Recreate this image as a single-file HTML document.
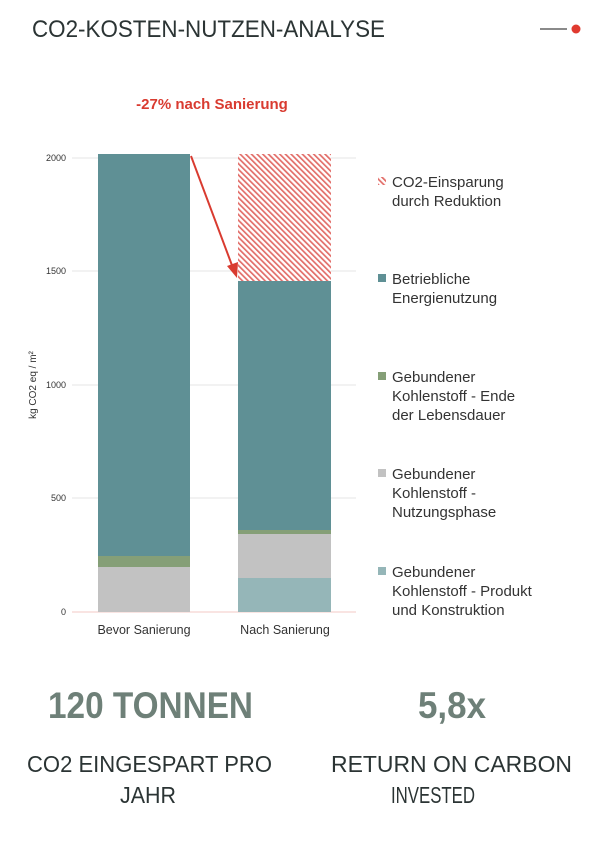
<!DOCTYPE html>
<html><head><meta charset="utf-8"><style>
html,body{margin:0;padding:0;background:#fff;}
svg{display:block;font-family:"Liberation Sans",sans-serif;}
</style></head><body>
<svg width="605" height="841" viewBox="0 0 605 841">
<defs>
<pattern id="h" width="4" height="4" patternUnits="userSpaceOnUse" patternTransform="rotate(-45)">
<rect width="4" height="4" fill="#fff"/><rect width="1.7" height="4" fill="#e26d68"/>
</pattern>
</defs>
<text x="32" y="37" font-size="24" fill="#2b3434" textLength="353" lengthAdjust="spacingAndGlyphs">CO2-KOSTEN-NUTZEN-ANALYSE</text>
<line x1="540" y1="29" x2="567" y2="29" stroke="#444" stroke-width="1.2"/>
<circle cx="576" cy="29" r="4.5" fill="#e03a2f"/>
<text x="212" y="109" font-size="15" font-weight="bold" fill="#d93b30" text-anchor="middle">-27% nach Sanierung</text>
<g stroke="#e4e4e4" stroke-width="1">
<line x1="72" y1="158" x2="356" y2="158"/><line x1="72" y1="271" x2="356" y2="271"/>
<line x1="72" y1="385" x2="356" y2="385"/><line x1="72" y1="498" x2="356" y2="498"/>
</g>
<line x1="72" y1="612" x2="356" y2="612" stroke="#f3c9c4" stroke-width="1"/>
<g font-size="9" fill="#333" text-anchor="end">
<text x="66" y="161">2000</text><text x="66" y="274">1500</text><text x="66" y="388">1000</text><text x="66" y="501">500</text><text x="66" y="615">0</text>
</g>
<text transform="translate(36,385) rotate(-90)" font-size="10" fill="#333" text-anchor="middle">kg CO2 eq / m²</text>
<rect x="98" y="154" width="92" height="402" fill="#5f9095"/>
<rect x="98" y="556" width="92" height="11" fill="#859f77"/>
<rect x="98" y="567" width="92" height="45" fill="#c2c2c2"/>
<rect x="238" y="154" width="93" height="127" fill="url(#h)"/>
<rect x="238" y="281" width="93" height="249" fill="#5f9095"/>
<rect x="238" y="530" width="93" height="4" fill="#859f77"/>
<rect x="238" y="534" width="93" height="44" fill="#c2c2c2"/>
<rect x="238" y="578" width="93" height="34" fill="#95b6b8"/>
<line x1="191" y1="156" x2="233" y2="268" stroke="#d93b30" stroke-width="2"/>
<polygon points="237,278 227,266 238,262" fill="#d93b30"/>
<g font-size="12.5" fill="#333" text-anchor="middle">
<text x="144" y="634">Bevor Sanierung</text><text x="285" y="634">Nach Sanierung</text>
</g>
<rect x="378" y="177" width="8" height="8" fill="url(#h)"/>
<rect x="378" y="274" width="8" height="8" fill="#5f9095"/>
<rect x="378" y="372" width="8" height="8" fill="#859f77"/>
<rect x="378" y="469" width="8" height="8" fill="#c2c2c2"/>
<rect x="378" y="567" width="8" height="8" fill="#95b6b8"/>
<g font-size="15" fill="#333">
<text x="392" y="187">CO2-Einsparung</text><text x="392" y="206">durch Reduktion</text>
<text x="392" y="284">Betriebliche</text><text x="392" y="303">Energienutzung</text>
<text x="392" y="382">Gebundener</text><text x="392" y="401">Kohlenstoff - Ende</text><text x="392" y="420">der Lebensdauer</text>
<text x="392" y="479">Gebundener</text><text x="392" y="498">Kohlenstoff -</text><text x="392" y="517">Nutzungsphase</text>
<text x="392" y="577">Gebundener</text><text x="392" y="596">Kohlenstoff - Produkt</text><text x="392" y="615">und Konstruktion</text>
</g>
<g font-size="37" font-weight="bold" fill="#6e8078">
<text x="48" y="718" textLength="205" lengthAdjust="spacingAndGlyphs">120 TONNEN</text>
<text x="418" y="718" textLength="68" lengthAdjust="spacingAndGlyphs">5,8x</text>
</g>
<g font-size="23" fill="#2b3434">
<text x="27" y="772" textLength="245" lengthAdjust="spacingAndGlyphs">CO2 EINGESPART PRO</text>
<text x="120" y="803" textLength="56" lengthAdjust="spacingAndGlyphs">JAHR</text>
<text x="331" y="772" textLength="241" lengthAdjust="spacingAndGlyphs">RETURN ON CARBON</text>
<text x="391" y="803" textLength="84" lengthAdjust="spacingAndGlyphs">INVESTED</text>
</g>
</svg>
</body></html>
